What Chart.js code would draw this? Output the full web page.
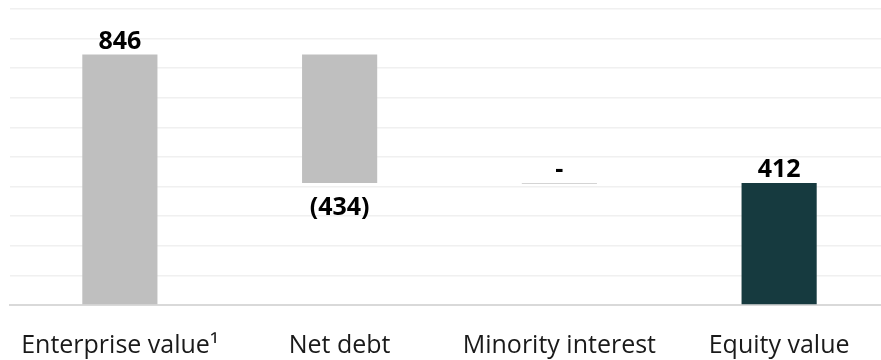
<!DOCTYPE html>
<html>
<head>
<meta charset="utf-8">
<script src="https://cdn.jsdelivr.net/npm/chart.js@4"></script>
<style>
  html, body { margin: 0; padding: 0; background: #fff; overflow: hidden; }
  #wrap { width: 889px; height: 360px; }
</style>
</head>
<body>
<div id="wrap"><canvas id="bridge"></canvas></div>
<script>
// Enterprise value -> equity value bridge
const categories = ["Enterprise value\u00B9", "Net debt", "Minority interest", "Equity value"];
const values = [846, -434, 0, 412];
const valueLabels = ["846", "(434)", "-", "412"];
const barColors = ["#bfbfbf", "#bfbfbf", "#bfbfbf", "#163a3f"];
const yTicks = [0, 100, 200, 300, 400, 500, 600, 700, 800, 900, 1000];

// running totals -> floating bars; the last bar is the total from zero
let running = 0;
const ranges = values.map((v, i) => {
  if (i === values.length - 1) return [0, v];
  const start = running;
  running += v;
  return [Math.min(start, running), Math.max(start, running)];
});

const FONT = "'Open Sans', 'Noto Sans', sans-serif";

// value labels above / below each bar, and a thin line for zero-height steps
const barLabels = {
  id: "barLabels",
  afterDatasetsDraw(chart) {
    const ctx = chart.ctx;
    const meta = chart.getDatasetMeta(0);
    ctx.save();
    meta.data.forEach((bar, i) => {
      const v = values[i];
      const top = Math.min(bar.y, bar.base);
      const bottom = Math.max(bar.y, bar.base);
      if (v === 0) {
        ctx.strokeStyle = "#d4d4d4";
        ctx.lineWidth = 1;
        ctx.beginPath();
        ctx.moveTo(bar.x - bar.width / 2, Math.round(top) + 0.5);
        ctx.lineTo(bar.x + bar.width / 2, Math.round(top) + 0.5);
        ctx.stroke();
      }
      ctx.fillStyle = "#000";
      ctx.font = "bold 25px " + FONT;
      ctx.textAlign = "center";
      ctx.textBaseline = "alphabetic";
      if (v < 0) {
        ctx.fillText(valueLabels[i], bar.x, bottom + 32);
      } else {
        ctx.fillText(valueLabels[i], bar.x, top - 6);
      }
    });
    ctx.restore();
  }
};

new Chart(document.getElementById("bridge"), {
  type: "bar",
  data: {
    labels: categories,
    datasets: [{
      data: ranges,
      backgroundColor: barColors,
      borderWidth: 0,
      barPercentage: 0.342,
      categoryPercentage: 1
    }]
  },
  options: {
    responsive: true,
    maintainAspectRatio: false,
    animation: false,
    layout: { padding: { left: 10, right: 0, top: 9, bottom: -27 } },
    plugins: { legend: { display: false }, tooltip: { enabled: false } },
    scales: {
      x: {
        grid: { display: false, drawTicks: false },
        border: { display: true, color: "#d9d9d9", width: 2 },
        ticks: {
          color: "#1a1a1a",
          padding: 26,
          maxRotation: 0,
          autoSkip: false,
          font: { family: FONT, size: 25 }
        },
        // the big tick padding should only push labels down, not inwards
        afterFit: (scale) => { scale.paddingLeft = 0; scale.paddingRight = 0; }
      },
      y: {
        min: 0,
        max: 1000,
        afterBuildTicks: (scale) => { scale.ticks = yTicks.map((v) => ({ value: v })); },
        afterFit: (scale) => { scale.width = 0; },
        grid: { color: "#f0f0f0", lineWidth: 1.5, drawTicks: false },
        border: { display: false },
        ticks: { display: false }
      }
    }
  },
  plugins: [barLabels]
});
</script>
</body>
</html>
